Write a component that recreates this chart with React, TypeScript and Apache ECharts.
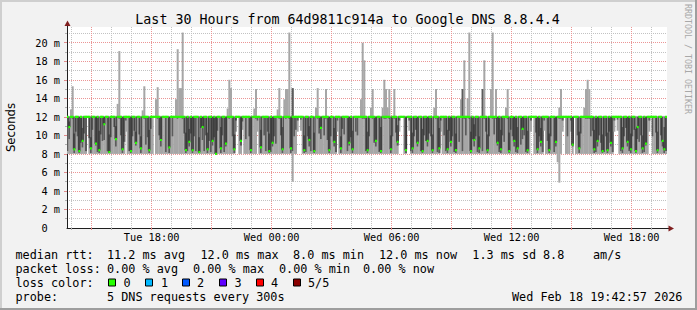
import React, { useEffect, useRef } from 'react';
import * as echarts from 'echarts';

// ---------------- data ----------------
const chartTitle = 'Last 30 Hours from 64d9811c914a to Google DNS 8.8.4.4';
const yAxisTitle = 'Seconds';
const watermark = 'RRDTOOL / TOBI OETIKER';

// time in minutes after Tue 00:00
const axisStartMin = 826;
const axisEndMin = 2626;
const firstSampleEndMin = 830;
const sampleStepMin = 5;

const timeLabelMinutes = [1080, 1440, 1800, 2160, 2520];
const timeLabelTexts = ['Tue 18:00', 'Wed 00:00', 'Wed 06:00', 'Wed 12:00', 'Wed 18:00'];
const majorTimeGrid = [900, 1080, 1260, 1440, 1620, 1800, 1980, 2160, 2340, 2520];
const minorTimeGrid = [840, 960, 1020, 1140, 1200, 1320, 1380, 1500, 1560, 1680, 1740, 1860, 1920, 2040, 2100, 2220, 2280, 2400, 2460, 2580];

const yMaxMs = 21.7;
const valueLabelValues = [0, 2, 4, 6, 8, 10, 12, 14, 16, 18, 20];
const majorValueGrid = [2, 4, 6, 8, 10, 12, 14, 16, 18, 20];
const minorValueGrid = [1, 3, 5, 7, 9, 11, 13, 15, 17, 19, 21];

// sorted ping times per 5-minute sample (ms), one row per hour
const pingMin = [
  8, 8, 8, 8, 8, 8, 8, 8, 8, 8, 8, 8,
  11.9, 8, 8, 8, 8, 8, 8, 8, 8, 8, 8, 8,
  8, 8, 8, 8, 8, 8, 8, 8, 8, 8, 8, 10.4,
  8, 8, 8, 8, 8, 8, 8, 8, 8, 8, 8, 8,
  8, 8, 8, 8, 11.9, 8, 8, 8, 8, 8, 8, 8,
  8, 8, 8, 8, 8, 8, 8, 8, 8, 8, 8, 8,
  8, 8, 8, 8, 8, 8, 8, 8, 8, 8, 8, 8,
  8, 8, 8, 8, 8, 8, 8, 8, 8, 8, 8, 8,
  8, 8, 8, 8, 8, 10.4, 11.9, 8, 8, 10.6, 8, 8,
  8, 8, 8, 8, 8, 8, 10.4, 8, 8, 8, 8, 8,
  8, 8, 8, 8, 8, 8, 8, 8, 8, 8, 8, 8,
  8, 8, 8, 5.0, 8, 8, 10.4, 11.9, 10.5, 8, 8, 8,
  8, 8, 8, 8, 8, 8, 8, 8, 8, 8, 8, 8,
  8, 8, 8, 8, 8, 8, 10.4, 8, 8, 8, 8, 8,
  8, 8, 8, 8, 8, 8, 8, 8, 8, 8, 8, 8,
  8, 8, 8, 8, 8, 8, 8, 8, 8, 8, 8, 8,
  8, 8, 8, 8, 8, 8, 8, 10.4, 11.9, 11.9, 8, 8,
  11.9, 10.5, 8, 8, 8, 8, 8, 8, 8, 8, 8, 8,
  8, 8, 8, 8, 8, 8, 8, 8, 10.4, 8, 8, 8,
  8, 8, 8, 8, 8, 8, 8, 8, 8, 8, 8, 8,
  8, 8, 8, 8, 8, 8, 8, 8, 8, 8, 8, 8,
  8, 8, 8, 8, 8, 8, 8, 8, 8, 8, 8, 8,
  8, 8, 8, 8, 8, 8, 8, 8, 8, 8, 8, 8,
  8, 8, 10.4, 11.9, 8, 8, 8, 8, 8, 8, 10.5, 8,
  8, 8, 8, 8, 8, 8, 7.1, 4.9, 8, 10.4, 11.9, 8,
  8, 8, 10.4, 8, 11.9, 8, 8, 8, 8, 8, 8, 8,
  8, 8, 8, 8, 8, 8, 8, 8, 8, 8, 8, 8,
  8, 8, 8, 8, 10.4, 11.9, 10.5, 8, 8, 8, 8, 8,
  8, 8, 8, 8, 8, 8, 8, 8, 8, 8, 8, 8,
  8, 10.4, 11.9, 8, 8, 8, 8, 8, 8, 8, 8, 8,
];

const pingLowMid = [
  8.3, 9.6, 11.9, 11.8, 8.1, 10.4, 9.9, 8.1, 9.2, 8.7, 10.2, 8.3,
  12.0, 9.7, 8.1, 10.6, 11.9, 8.9, 8.2, 8.1, 10.1, 9.4, 9.5, 11.9,
  8.3, 8.1, 9.8, 11.9, 10.9, 8.8, 11.9, 11.8, 10.0, 8.1, 9.3, 11.6,
  11.9, 8.3, 8.1, 9.9, 10.5, 8.9, 11.9, 10.1, 8.1, 11.9, 11.8, 9.0,
  9.8, 8.1, 10.7, 11.9, 12.0, 11.9, 11.8, 10.0, 8.8, 11.9, 11.9, 8.2,
  11.9, 8.1, 11.9, 9.9, 11.9, 11.9, 11.8, 11.9, 11.9, 11.8, 10.2, 8.1,
  8.3, 8.8, 10.2, 8.1, 9.9, 8.3, 11.9, 8.1, 10.8, 9.5, 8.3, 10.0,
  8.1, 9.4, 8.2, 8.9, 9.8, 8.0, 10.5, 11.9, 8.1, 10.0, 8.2, 8.8,
  11.9, 11.8, 11.9, 9.9, 8.1, 11.6, 12.0, 11.9, 8.9, 11.5, 11.9, 9.6,
  11.9, 9.9, 8.1, 11.9, 11.9, 11.8, 11.6, 11.9, 8.1, 11.9, 10.0, 8.3,
  10.4, 8.1, 8.2, 8.8, 9.9, 9.1, 11.9, 11.8, 10.0, 8.1, 11.9, 11.8,
  11.9, 11.8, 8.1, 8.3, 9.9, 10.6, 11.6, 12.0, 11.7, 11.9, 8.1, 8.2,
  9.9, 8.8, 8.3, 11.9, 8.1, 11.9, 11.8, 10.2, 9.6, 11.9, 10.0, 11.8,
  9.5, 8.1, 9.9, 11.9, 8.8, 8.2, 11.6, 11.9, 8.1, 10.7, 10.1, 11.9,
  8.3, 8.9, 9.8, 8.1, 11.9, 10.4, 10.0, 11.9, 11.9, 11.8, 11.8, 8.3,
  8.1, 9.9, 11.9, 11.8, 9.2, 8.8, 11.9, 8.2, 8.1, 11.9, 11.8, 11.8,
  11.9, 11.8, 8.1, 9.9, 11.8, 10.3, 8.9, 11.6, 12.0, 12.0, 11.9, 8.1,
  12.0, 11.6, 8.3, 8.1, 9.9, 10.6, 8.8, 11.9, 8.3, 8.1, 10.0, 9.4,
  8.8, 10.2, 9.9, 8.1, 11.9, 11.8, 8.2, 8.1, 11.6, 11.9, 10.0, 8.3,
  8.1, 10.5, 8.8, 9.9, 8.2, 8.1, 11.9, 9.3, 11.9, 8.3, 11.8, 10.0,
  11.9, 11.8, 8.1, 9.6, 8.8, 9.9, 8.2, 8.1, 11.9, 8.3, 11.8, 10.4,
  8.1, 9.9, 11.9, 11.8, 10.1, 11.8, 8.9, 8.2, 8.1, 10.0, 9.3, 11.9,
  11.8, 8.1, 10.6, 9.9, 8.8, 8.2, 8.1, 11.9, 9.0, 9.6, 10.0, 8.2,
  8.1, 11.9, 11.6, 12.0, 11.9, 10.3, 8.1, 9.9, 8.8, 8.2, 11.6, 11.9,
  9.4, 8.1, 9.9, 11.9, 8.2, 8.8, 11.9, 11.8, 11.8, 11.6, 12.0, 11.9,
  9.9, 11.9, 11.6, 8.8, 12.0, 11.9, 10.0, 8.1, 10.2, 11.9, 11.9, 11.8,
  11.8, 11.8, 9.9, 10.5, 8.1, 8.2, 8.8, 10.0, 9.2, 8.1, 8.2, 9.9,
  8.1, 10.4, 8.8, 8.2, 11.6, 12.0, 11.7, 11.9, 8.3, 8.1, 9.9, 10.8,
  8.8, 8.3, 8.1, 9.9, 10.6, 8.1, 9.6, 9.3, 10.0, 8.1, 8.2, 8.9,
  11.9, 11.6, 12.0, 9.9, 11.9, 10.3, 8.1, 11.9, 10.0, 8.8, 8.1, 8.3,
];

const pingMedian = [
  12, 10.9, 12, 12, 8.5, 12, 12, 8.3, 12, 9.4, 12, 12,
  12, 12, 8.6, 12, 12, 9.1, 12, 8.4, 12, 12, 11.2, 12,
  12, 8.2, 12, 12, 12, 9.6, 12, 12, 12, 8.5, 12, 12,
  12, 12, 8.3, 12, 12, 9.2, 12, 12, 8.6, 12, 12, 12,
  12, 8.4, 12, 12, 12, 12, 12, 12, 9.5, 12, 12, 12,
  12, 8.7, 12, 12, 12, 12, 12, 12, 12, 12, 12, 8.4,
  12, 9.3, 12, 8.4, 12, 12, 12, 8.2, 12, 10.9, 12, 12,
  8.5, 12, 12, 9.4, 12, 8.0, 12, 12, 8.6, 12, 12, 9.1,
  12, 12, 12, 12, 8.5, 12, 12, 12, 9.4, 12, 12, 12,
  12, 12, 8.4, 12, 12, 12, 12, 12, 8.7, 12, 12, 12,
  12, 8.3, 12, 9.2, 12, 12, 12, 12, 12, 8.5, 12, 12,
  12, 12, 8.6, 12, 12, 12, 12, 12, 12, 12, 8.4, 12,
  12, 9.5, 12, 12, 8.3, 12, 12, 12, 10.8, 12, 12, 12,
  12, 8.4, 12, 12, 9.3, 12, 12, 12, 8.6, 12, 12, 12,
  12, 9.2, 12, 8.5, 12, 12, 12, 12, 12, 12, 12, 12,
  8.4, 12, 12, 12, 12, 9.4, 12, 12, 8.3, 12, 12, 12,
  12, 12, 8.5, 12, 12, 12, 9.3, 12, 12, 12, 12, 8.4,
  12, 12, 12, 8.6, 12, 12, 9.2, 12, 12, 8.3, 12, 12,
  9.4, 12, 12, 8.4, 12, 12, 12, 8.6, 12, 12, 12, 12,
  8.5, 12, 9.3, 12, 12, 8.4, 12, 12, 12, 12, 12, 12,
  12, 12, 8.3, 12, 9.5, 12, 12, 8.6, 12, 12, 12, 12,
  8.4, 12, 12, 12, 12, 12, 9.2, 12, 8.5, 12, 12, 12,
  12, 8.3, 12, 12, 9.4, 12, 8.6, 12, 12, 10.7, 12, 12,
  8.4, 12, 12, 12, 12, 12, 8.5, 12, 9.3, 12, 12, 12,
  12, 8.4, 12, 12, 12, 9.3, 12, 12, 12, 12, 12, 12,
  12, 12, 12, 9.0, 12, 12, 12, 8.6, 12, 12, 12, 12,
  12, 12, 12, 12, 8.5, 12, 9.4, 12, 12, 8.3, 12, 12,
  8.4, 12, 9.2, 12, 12, 12, 12, 12, 12, 8.6, 12, 12,
  9.3, 12, 8.5, 12, 12, 8.3, 10.9, 12, 12, 8.6, 12, 9.1,
  12, 12, 12, 12, 12, 12, 8.4, 12, 12, 9.4, 8.5, 12,
];

const pingHighMid = [
  12, 11.5, 12, 12, 10.2, 12, 12, 12, 12, 10.8, 12, 12,
  12, 12, 9.8, 12, 12, 12, 12, 10.5, 12, 12, 12, 12,
  12, 10.1, 12, 12, 12, 11.0, 12, 12, 12, 12, 12, 12,
  12, 12, 12, 12, 12, 10.4, 12, 12, 9.9, 12, 12, 12,
  12, 10.6, 12, 12, 12, 12, 12, 12, 12, 12, 12, 12,
  12, 12, 12, 12, 12, 12, 12, 12, 12, 12, 12, 10.3,
  12, 10.7, 12, 12, 12, 12, 12, 9.8, 12, 12, 12, 12,
  10.3, 12, 12, 12, 12, 12, 12, 12, 10.9, 12, 12, 12,
  12, 12, 12, 12, 10.1, 12, 12, 12, 12, 12, 12, 12,
  12, 12, 12, 12, 12, 12, 12, 12, 10.6, 12, 12, 12,
  12, 10.2, 12, 12, 12, 12, 12, 12, 12, 10.9, 12, 12,
  12, 12, 12, 15.1, 12, 12, 12, 12, 12, 12, 10.0, 12,
  12, 11.0, 12, 12, 10.3, 12, 12, 12, 12, 12, 12, 12,
  12, 12, 12, 12, 10.8, 12, 12, 12, 9.9, 12, 12, 12,
  12, 12, 12, 10.5, 12, 12, 12, 12, 12, 12, 12, 12,
  10.4, 12, 12, 12, 12, 12, 12, 12, 10.9, 12, 12, 12,
  12, 12, 10.0, 12, 12, 12, 11.1, 12, 12, 12, 12, 12,
  12, 12, 12, 10.3, 12, 12, 12, 12, 12, 10.7, 12, 12,
  12, 12, 12, 10.1, 12, 12, 12, 10.8, 12, 12, 12, 12,
  10.6, 12, 12, 12, 12, 10.2, 12, 12, 12, 15.0, 12, 12,
  12, 12, 10.4, 12, 11.2, 12, 12, 9.9, 12, 15.0, 12, 12,
  10.1, 12, 12, 12, 12, 12, 12, 12, 10.6, 12, 12, 12,
  12, 10.3, 12, 12, 12, 12, 10.9, 12, 12, 12, 12, 12,
  10.5, 12, 12, 12, 12, 12, 12, 12, 10.8, 12, 12, 12,
  12, 10.2, 12, 12, 12, 12, 12, 12, 12, 12, 12, 12,
  12, 12, 12, 12, 12, 12, 12, 10.4, 12, 12, 12, 12,
  12, 12, 12, 12, 10.6, 12, 12, 12, 12, 10.1, 12, 12,
  10.3, 12, 12, 12, 12, 12, 12, 12, 12, 10.9, 12, 12,
  12, 12, 10.2, 12, 12, 10.7, 12, 12, 12, 10.0, 12, 12,
  12, 12, 12, 12, 12, 12, 10.4, 12, 12, 12, 10.9, 12,
];

const pingMax = [
  12.1, 12.1, 12.8, 15.3, 12.1, 12.1, 12.1, 12.1, 12.1, 12.1, 12.1, 12.1,
  12.1, 12.1, 12.1, 12.1, 12.1, 12.1, 12.1, 12.1, 12.1, 12.1, 12.1, 12.1,
  12.1, 12.1, 12.1, 12.1, 12.1, 12.1, 13.4, 19.1, 12.1, 12.1, 12.1, 12.1,
  12.1, 12.1, 12.1, 12.1, 12.1, 12.1, 12.1, 12.1, 12.1, 12.7, 15.3, 12.1,
  12.1, 12.1, 12.1, 12.1, 12.1, 13.9, 15.2, 12.1, 12.1, 12.1, 12.1, 12.1,
  12.1, 12.1, 12.1, 12.1, 12.1, 13.9, 19.3, 15.1, 15.1, 21.1, 12.1, 12.1,
  12.1, 12.1, 12.1, 12.1, 12.1, 12.1, 12.1, 12.1, 12.1, 12.1, 12.1, 12.1,
  12.1, 12.1, 12.1, 12.1, 12.1, 12.1, 12.1, 12.1, 12.1, 12.1, 12.1, 12.1,
  12.9, 16.0, 15.1, 12.1, 12.1, 12.1, 12.1, 12.1, 12.1, 12.1, 12.1, 12.1,
  12.1, 12.1, 12.1, 12.1, 12.9, 15.0, 12.1, 12.1, 12.1, 12.1, 12.1, 12.1,
  12.1, 12.1, 12.1, 12.1, 12.1, 12.1, 12.8, 15.1, 12.1, 12.1, 13.9, 15.0,
  15.0, 21.1, 12.1, 15.1, 12.1, 12.1, 12.1, 12.1, 12.1, 12.1, 12.1, 12.1,
  12.1, 12.1, 12.1, 12.1, 12.1, 13.0, 15.1, 12.1, 12.1, 12.1, 12.1, 15.0,
  12.1, 12.1, 12.1, 12.1, 12.1, 12.1, 12.1, 12.1, 12.1, 12.1, 12.1, 12.1,
  12.1, 12.1, 12.1, 12.1, 12.1, 12.1, 12.1, 12.1, 13.9, 20.0, 18.1, 12.1,
  12.1, 12.1, 13.0, 15.0, 12.1, 12.1, 12.1, 12.1, 12.1, 13.0, 16.0, 15.0,
  13.0, 15.0, 12.1, 12.1, 15.0, 12.1, 12.1, 12.1, 12.1, 12.1, 12.1, 12.1,
  12.1, 12.1, 12.1, 12.1, 12.1, 12.1, 12.1, 12.1, 12.1, 12.1, 12.1, 12.1,
  12.1, 12.1, 12.1, 12.1, 13.0, 15.0, 12.1, 12.1, 12.1, 12.1, 12.1, 12.1,
  12.1, 12.1, 12.1, 12.1, 12.1, 12.1, 12.1, 12.1, 13.9, 15.0, 18.1, 12.1,
  14.0, 21.1, 12.1, 12.1, 12.1, 12.1, 12.1, 12.1, 12.1, 15.0, 18.1, 12.1,
  12.1, 12.1, 15.0, 21.1, 12.1, 15.0, 12.1, 12.1, 12.1, 12.1, 12.1, 13.0,
  15.0, 12.1, 12.1, 12.1, 12.1, 12.1, 12.1, 12.1, 12.1, 12.1, 12.1, 12.1,
  12.1, 12.1, 12.1, 12.1, 12.1, 12.1, 12.1, 12.1, 12.1, 12.1, 12.1, 12.1,
  12.1, 12.1, 12.1, 12.1, 12.1, 12.1, 12.1, 13.0, 15.0, 12.1, 12.1, 12.1,
  12.1, 12.1, 12.1, 12.1, 12.1, 12.1, 12.1, 12.1, 12.1, 12.1, 13.0, 15.0,
  16.0, 15.0, 12.1, 12.1, 12.1, 12.1, 12.1, 12.1, 12.1, 12.1, 12.1, 12.1,
  12.1, 12.1, 12.1, 12.1, 12.1, 12.1, 12.1, 12.1, 12.1, 12.1, 12.1, 12.1,
  12.1, 12.1, 12.1, 12.1, 12.1, 12.1, 12.1, 12.1, 12.1, 12.1, 12.1, 12.1,
  12.1, 12.1, 12.1, 12.1, 12.1, 12.1, 12.1, 12.1, 12.1, 12.1, 12.1, 12.1,
];

// legend texts
const rttRowTexts = ['median rtt:', '11.2 ms avg', '12.0 ms max', '8.0 ms min', '12.0 ms now', '1.3 ms sd', '8.8', 'am/s'];
const lossRowTexts = ['packet loss:', '0.00 % avg', '0.00 % max', '0.00 % min', '0.00 % now'];
const lossColorLabel = 'loss color:';
const lossColorNames = ['0', '1', '2', '3', '4', '5/5'];
const lossColorValues = ['#26ff00', '#00b8ff', '#0059ff', '#5e00ff', '#ff0000', '#8a0000'];
const probeRowTexts = ['probe:', '5 DNS requests every 300s'];
const timestampText = 'Wed Feb 18 19:42:57 2026';

// ---------------- layout / style ----------------
const W = 697;
const H = 310;
const MONO = "'DejaVu Sans Mono', monospace";
const SANS = "'DejaVu Sans', sans-serif";
const rttRowX = [15.5, 107, 200.5, 293, 379, 472.3, 543, 593];
const lossRowX = [15.5, 107, 193, 279, 363];
const lossSquareX = [108.5, 145.5, 182.5, 219.5, 256.5, 293.5];
const lossNameX = [123.5, 161, 197, 234.5, 271, 308];
const rowY = [254.5, 268.5, 282.5, 296.5];
const legendFont = 11.8;

function txt(text: string, x: number, y: number, size: number, family: string, extra: any = {}) {
  return {
    type: 'text',
    x,
    y,
    rotation: extra.rotation || 0,
    silent: true,
    style: {
      text,
      fill: extra.fill || '#000',
      fontSize: size,
      fontFamily: family,
      textAlign: extra.align || 'left',
      align: extra.align || 'left',
      textVerticalAlign: 'middle',
      verticalAlign: 'middle',
    },
  };
}

export default function App() {
  const ref = useRef<HTMLDivElement>(null);

  useEffect(() => {
    document.body.style.margin = '0';
    if (!ref.current) return;
    const chart = echarts.init(ref.current, undefined, { renderer: 'svg' });

    const sampleRows = pingMedian.map((m, i) => [
      firstSampleEndMin + i * sampleStepMin,
      pingMin[i],
      pingLowMid[i],
      m,
      pingHighMid[i],
      pingMax[i],
    ]);
    const medianLine = sampleRows.map((r) => [r[0], r[3]]);

    const renderSmoke = (_p: any, api: any) => {
      const t = api.value(0);
      const left = api.coord([t - sampleStepMin, 0])[0];
      const right = api.coord([t, 0])[0];
      const w = right - left + 0.35;
      const yOf = (v: number) => api.coord([t, v])[1];
      const p1 = api.value(1), p2 = api.value(2), p4 = api.value(4), p5 = api.value(5);
      return {
        type: 'group',
        children: [
          { type: 'rect', shape: { x: left, y: yOf(p5), width: w, height: yOf(p1) - yOf(p5) }, style: { fill: '#a6a6a6' } },
          { type: 'rect', shape: { x: left, y: yOf(p4), width: w, height: yOf(p2) - yOf(p4) }, style: { fill: '#5c5c5c' } },
        ],
      };
    };

    const renderMedian = (_p: any, api: any) => {
      const t = api.value(0);
      const left = api.coord([t - sampleStepMin, 0])[0];
      const right = api.coord([t, 0])[0];
      const y = api.coord([t, api.value(3)])[1];
      return { type: 'rect', shape: { x: left, y: y - 1.1, width: right - left + 0.3, height: 2.2 }, style: { fill: lossColorValues[0] } };
    };

    const graphics: any[] = [];
    graphics.push(txt(chartTitle, 347.5, 19, 13.3, MONO, { align: 'center' }));
    graphics.push(txt(yAxisTitle, 11, 127.5, 11.7, SANS, { align: 'center', rotation: Math.PI / 2 }));
    graphics.push(txt(watermark, 688, 59, 8.3, MONO, { align: 'center', rotation: -Math.PI / 2, fill: '#a8a8a8' }));
    rttRowTexts.forEach((s, i) => graphics.push(txt(s, rttRowX[i], rowY[0], legendFont, MONO)));
    lossRowTexts.forEach((s, i) => graphics.push(txt(s, lossRowX[i], rowY[1], legendFont, MONO)));
    graphics.push(txt(lossColorLabel, 15.5, rowY[2], legendFont, MONO));
    lossColorNames.forEach((s, i) => {
      graphics.push({
        type: 'rect',
        silent: true,
        shape: { x: lossSquareX[i], y: rowY[2] - 3.5, width: 7, height: 7 },
        style: { fill: lossColorValues[i], stroke: '#000', lineWidth: 1 },
      });
      graphics.push(txt(s, lossNameX[i], rowY[2], legendFont, MONO));
    });
    graphics.push(txt(probeRowTexts[0], 15.5, rowY[3], legendFont, MONO));
    graphics.push(txt(probeRowTexts[1], 107, rowY[3], legendFont, MONO));
    graphics.push(txt(timestampText, 512, rowY[3], legendFont, MONO));
    // axis arrows
    graphics.push({ type: 'line', silent: true, shape: { x1: 67.5, y1: 27, x2: 67.5, y2: 22 }, style: { stroke: '#1f1f1f', lineWidth: 1 } });
    graphics.push({ type: 'polygon', silent: true, shape: { points: [[64.5, 26], [70.5, 26], [67.5, 20.5]] }, style: { fill: '#801f1f' } });
    graphics.push({ type: 'line', silent: true, shape: { x1: 667, y1: 228.5, x2: 669, y2: 228.5 }, style: { stroke: '#1f1f1f', lineWidth: 1 } });
    graphics.push({ type: 'polygon', silent: true, shape: { points: [[668.5, 225.5], [668.5, 231.5], [674, 228.5]] }, style: { fill: '#801f1f' } });
    // frame shading
    graphics.push({ type: 'rect', silent: true, shape: { x: 0, y: 0, width: W, height: 2 }, style: { fill: '#cfcfcf' } });
    graphics.push({ type: 'rect', silent: true, shape: { x: 0, y: 0, width: 2, height: H }, style: { fill: '#cfcfcf' } });
    graphics.push({ type: 'rect', silent: true, shape: { x: 0, y: H - 2, width: W, height: 2 }, style: { fill: '#9e9e9e' } });
    graphics.push({ type: 'rect', silent: true, shape: { x: W - 2, y: 0, width: 2, height: H }, style: { fill: '#9e9e9e' } });

    const minorGridStyle = { color: '#c2c2c2', width: 1, type: [1, 1] };
    const majorGridStyle = { color: '#eb9595', width: 1, type: [1, 1] };

    const option: any = {
      animation: false,
      backgroundColor: '#f2f2f2',
      grid: {
        left: 67, top: 27, width: 600, height: 201,
        show: true, backgroundColor: '#ffffff', borderWidth: 0,
        containLabel: false, outerBoundsMode: 'none',
      },
      xAxis: [
        {
          type: 'value', min: axisStartMin, max: axisEndMin, position: 'bottom',
          axisLine: { show: false },
          axisLabel: { show: false },
          axisTick: { show: true, length: 2, customValues: minorTimeGrid, lineStyle: { color: '#b0b0b0' } },
          splitLine: { show: true, lineStyle: minorGridStyle },
        },
        {
          type: 'value', min: axisStartMin, max: axisEndMin, position: 'bottom',
          axisLine: { show: true, onZero: false, lineStyle: { color: '#1f1f1f', width: 1 } },
          axisTick: { show: true, length: 2, customValues: majorTimeGrid, lineStyle: { color: '#e08a8a' } },
          axisLabel: {
            show: true,
            customValues: timeLabelMinutes,
            formatter: (v: number) => {
              const k = timeLabelMinutes.indexOf(Math.round(v));
              return k >= 0 ? timeLabelTexts[k] : '';
            },
            margin: 4, fontFamily: MONO, fontSize: 10.3, color: '#000',
          },
          splitLine: { show: true, lineStyle: majorGridStyle },
        },
      ],
      yAxis: [
        {
          type: 'value', min: 0, max: yMaxMs, position: 'left',
          axisLine: { show: false },
          axisLabel: { show: false },
          axisTick: { show: true, length: 2, customValues: minorValueGrid, lineStyle: { color: '#b0b0b0' } },
          splitLine: { show: true, lineStyle: minorGridStyle },
        },
        {
          type: 'value', min: 0, max: yMaxMs, position: 'left',
          axisLine: { show: true, onZero: false, lineStyle: { color: '#1f1f1f', width: 1 } },
          axisTick: { show: true, length: 3, customValues: majorValueGrid, lineStyle: { color: '#e08a8a' } },
          axisLabel: {
            show: true,
            customValues: valueLabelValues,
            formatter: (v: number) => (v === 0 ? '{z|0}' : `${v} m`),
            margin: 7, fontFamily: MONO, fontSize: 10.3, color: '#000',
            rich: { z: { fontFamily: MONO, fontSize: 10.3, color: '#000', padding: [0, 12.4, 0, 0] } },
          },
          splitLine: { show: true, lineStyle: majorGridStyle },
        },
      ],
      series: [
        {
          type: 'custom', name: 'smoke', xAxisIndex: 1, yAxisIndex: 1,
          data: sampleRows, encode: { x: 0, y: [1, 2, 3, 4, 5] },
          renderItem: renderSmoke, clip: true, silent: true, z: 2,
        },
        {
          type: 'line', name: 'median step', xAxisIndex: 1, yAxisIndex: 1,
          data: medianLine, step: 'start', symbol: 'none', showSymbol: false,
          lineStyle: { color: '#262626', width: 0.8 }, silent: true, z: 3,
          emphasis: { disabled: true },
        },
        {
          type: 'custom', name: 'median', xAxisIndex: 1, yAxisIndex: 1,
          data: sampleRows, encode: { x: 0, y: 3 },
          renderItem: renderMedian, clip: true, silent: true, z: 4,
        },
      ],
      graphic: { elements: graphics },
    };

    chart.setOption(option);
    return () => chart.dispose();
  }, []);

  return <div ref={ref} style={{ width: W, height: H }} />;
}
